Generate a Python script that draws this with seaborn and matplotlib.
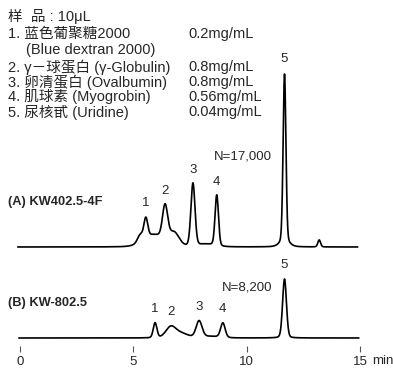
import numpy as np
import pandas as pd
import matplotlib
matplotlib.use("Agg")
import matplotlib.pyplot as plt
import seaborn as sns

# -----------------------------
# DATA
# -----------------------------
peak_no = ["1", "2", "3", "4", "5"]

# (A) KW402.5-4F : retention time (min), height, width (min)
rt_a = [5.55, 6.40, 7.63, 8.68, 11.67]
height_a = [20, 34, 63, 51, 168]
sigma_a = [0.085, 0.115, 0.09, 0.075, 0.062]
top_a = [31, 43, 64, 52, 175]
# shoulders / hump / small late peak / tail of peak 5
extra_rt_a = [5.30, 5.90, 6.80, 8.20, 13.20, 11.67]
extra_h_a = [7, 12, 13, 2.5, 7, 5]
extra_sigma_a = [0.12, 0.45, 0.22, 0.35, 0.06, 0.20]

# (B) KW-802.5
rt_b = [5.96, 6.65, 7.90, 8.95, 11.67]
height_b = [15, 10.5, 16.5, 14.5, 59]
sigma_b = [0.08, 0.22, 0.13, 0.10, 0.085]
top_b = [15, 12, 17, 15, 59]
extra_rt_b = [7.10, 8.40]
extra_h_b = [4.5, 1.5]
extra_sigma_b = [0.30, 0.40]

baseline_a = 105
baseline_b = 14

plate_a = "N=17,000"
plate_b = "N=8,200"
col_a = "(A) KW402.5-4F"
col_b = "(B) KW-802.5"

sample_lines = [
    "样  品 : 10μL",
    "1. 蓝色葡聚糖2000",
    "(Blue dextran 2000)",
    "2. γ－球蛋白 (γ-Globulin)",
    "3. 卵清蛋白 (Ovalbumin)",
    "4. 肌球素 (Myogrobin)",
    "5. 尿核甙 (Uridine)",
]
conc_lines = ["0.2mg/mL", "", "0.8mg/mL", "0.8mg/mL", "0.56mg/mL", "0.04mg/mL"]

x_ticks = [0, 5, 10, 15]

# -----------------------------
# BUILD TRACES
# -----------------------------
def peak(t, rt, h, s):
    g = np.exp(-0.5 * ((t - rt) / s) ** 2)
    lor = 1.0 / (1.0 + ((t - rt) / (1.18 * s)) ** 2)
    return h * (0.85 * g + 0.15 * lor)

t_a = np.linspace(-0.1, 14.9, 3000)
sig_a = np.full_like(t_a, baseline_a, dtype=float)
for r, h, s in zip(rt_a + extra_rt_a, height_a + extra_h_a, sigma_a + extra_sigma_a):
    sig_a += peak(t_a, r, h, s)

t_b = np.linspace(-0.05, 14.95, 3000)
sig_b = np.full_like(t_b, baseline_b, dtype=float)
for r, h, s in zip(rt_b + extra_rt_b, height_b + extra_h_b, sigma_b + extra_sigma_b):
    sig_b += peak(t_b, r, h, s)

df = pd.concat([
    pd.DataFrame({"time": t_a, "signal": sig_a, "column": "A"}),
    pd.DataFrame({"time": t_b, "signal": sig_b, "column": "B"}),
])

# -----------------------------
# PLOT
# -----------------------------
sns.set_style("white")
plt.rcParams["font.family"] = ["Liberation Sans", "Noto Sans CJK SC"]

W, H = 393, 369
fig = plt.figure(figsize=(W / 100, H / 100), dpi=100)
ax = fig.add_axes([0, 17 / H, 1, 1 - 17 / H])

sns.lineplot(data=df, x="time", y="signal", units="column", estimator=None,
             color="black", linewidth=1.2, ax=ax, legend=False)

px_per_min = 340 / 15
ax.set_xlim(-20 / px_per_min, (W - 20) / px_per_min)
ax.set_ylim(0, H - 17)
for sp in ax.spines.values():
    sp.set_visible(False)
ax.set_yticks([])
ax.set_xticks(x_ticks)
ax.set_xticklabels([str(v) for v in x_ticks])
ax.tick_params(axis="x", direction="in", length=4, width=0.8, color="#555555",
               pad=3, labelsize=9.5, bottom=True)
ax.set_xlabel("")
ax.set_ylabel("")
ax.text(15.53, -3, "min", fontsize=9.5, ha="left", va="top",
        transform=ax.transData, clip_on=False)

# peak numbers
for lab, r, top in zip(peak_no, rt_a, top_a):
    ax.text(r, baseline_a + top + 7, lab, ha="center", va="bottom", fontsize=9.5)
for lab, r, top in zip(peak_no, rt_b, top_b):
    ax.text(r, baseline_b + top + 8, lab, ha="center", va="bottom", fontsize=9.5)

def fig_xy(x, y):
    return x / W, 1 - y / H

fig.text(*fig_xy(214, 156), plate_a, fontsize=9.5, va="center")
fig.text(*fig_xy(222, 288), plate_b, fontsize=9.5, va="center")
fig.text(*fig_xy(8, 202), col_a, fontsize=9.3, fontweight="bold", va="center")
fig.text(*fig_xy(8, 303), col_b, fontsize=9.3, fontweight="bold", va="center")

line_y = [16, 34, 50, 67, 82, 97, 112]
line_x = [8, 8, 26, 8, 8, 8, 8]
for txt, x, y in zip(sample_lines, line_x, line_y):
    fig.text(*fig_xy(x, y), txt, fontsize=10.5, va="center")
for txt, y in zip(conc_lines, line_y[1:]):
    if txt:
        fig.text(*fig_xy(188, y), txt, fontsize=10.5, va="center")

fig.savefig("out.png", dpi=100)
